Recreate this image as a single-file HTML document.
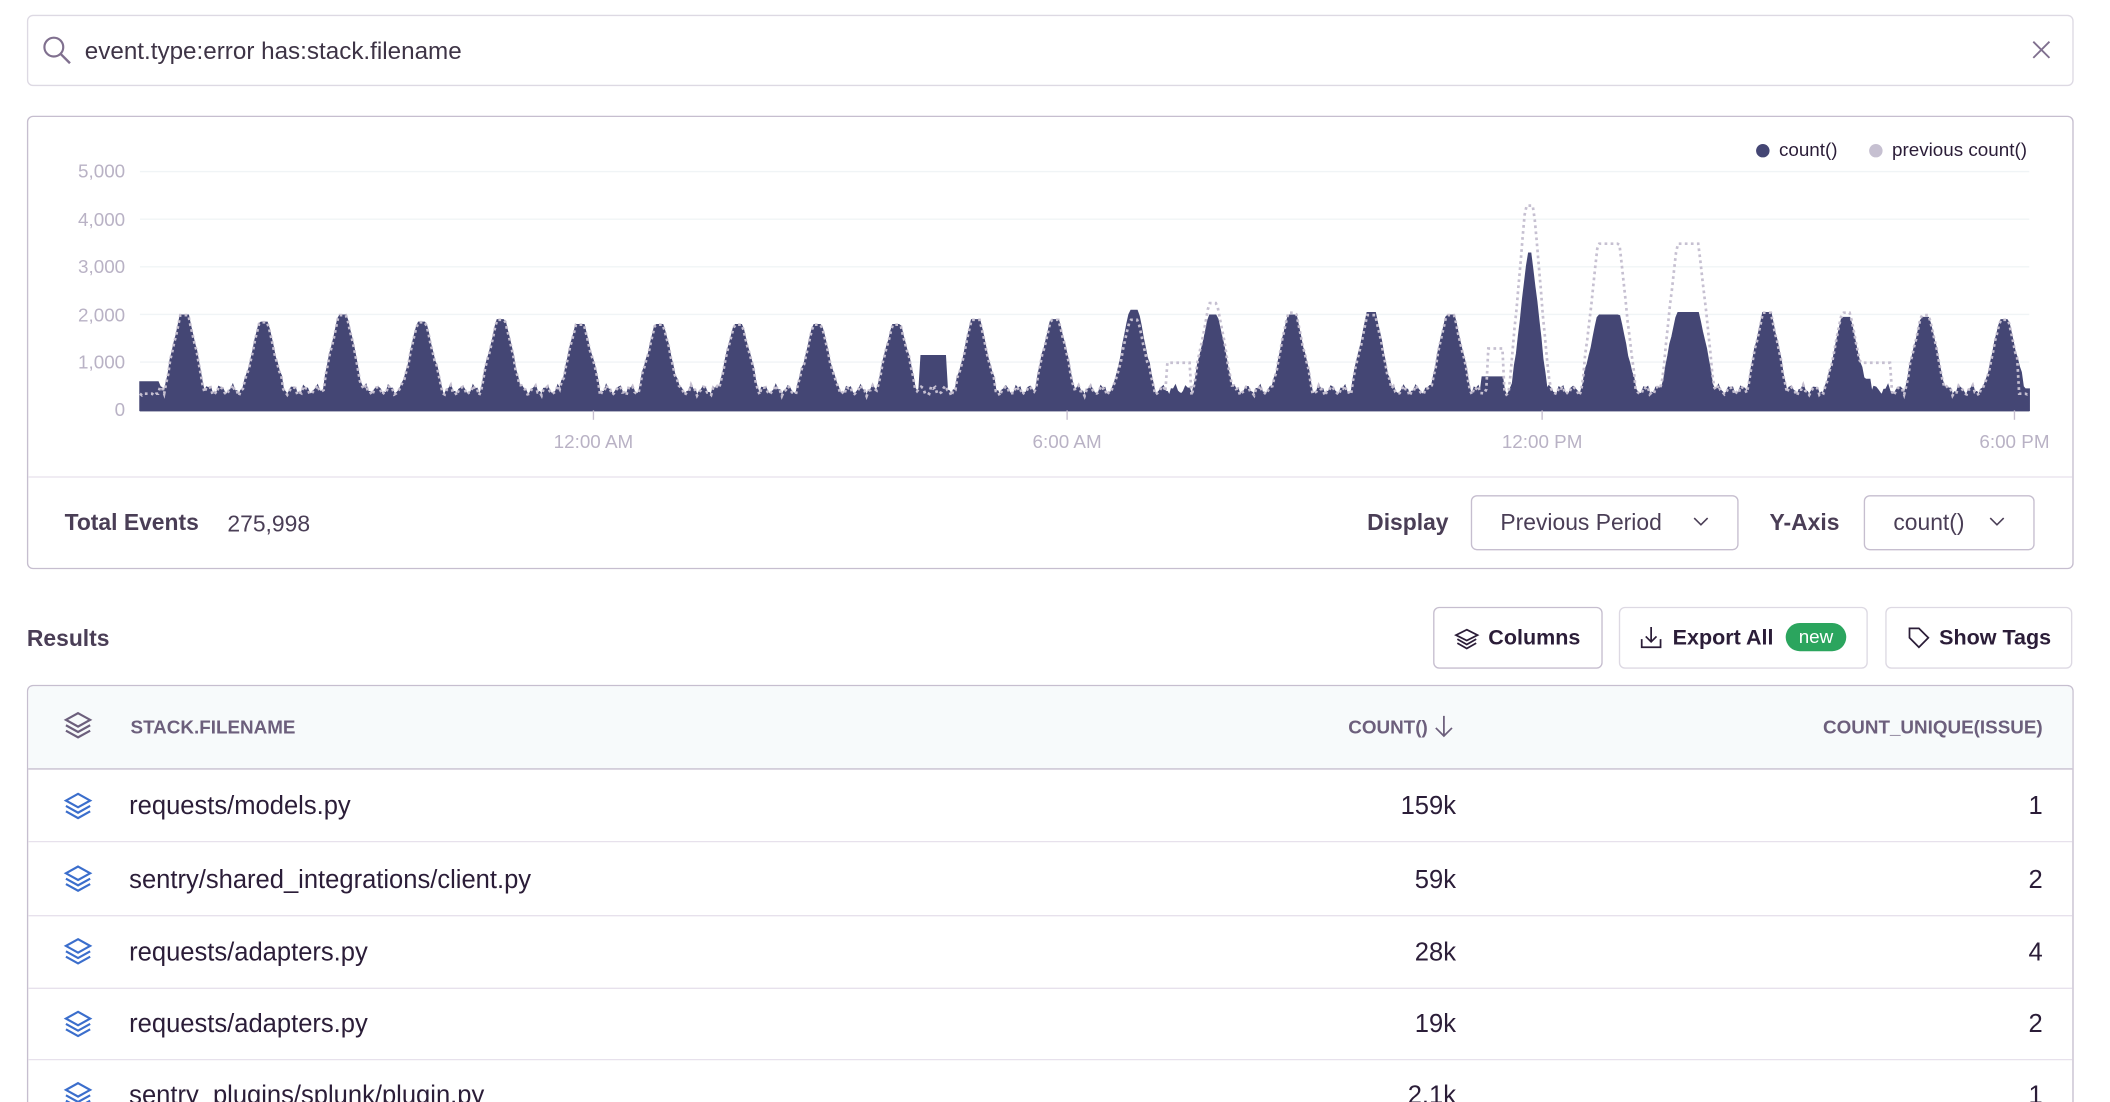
<!DOCTYPE html>
<html><head><meta charset="utf-8"><style>
html,body{margin:0;padding:0;background:#fff;overflow:hidden}
svg{display:block}
text{font-family:"Liberation Sans",sans-serif}
</style></head><body>
<svg id="s" width="2110" height="1102" viewBox="0 0 1568 819" preserveAspectRatio="none" xmlns="http://www.w3.org/2000/svg">
<!-- search -->
<rect x="20.5" y="11.5" width="1520" height="52" rx="4" fill="#fff" stroke="#ddd9e3"/>
<circle cx="40" cy="35" r="7" fill="none" stroke="#80708f" stroke-width="1.6"/>
<line x1="45" y1="40" x2="52" y2="47" stroke="#80708f" stroke-width="1.8"/>
<text x="63" y="44" font-size="18" fill="#3e3446">event.type:error has:stack.filename</text>
<path d="M1511 31 L1523 43 M1523 31 L1511 43" stroke="#80708f" stroke-width="1.4"/>
<!-- chart panel -->
<rect x="20.5" y="86.5" width="1520" height="336" rx="4" fill="#fff" stroke="#c6becf"/>
<line x1="21" y1="354.5" x2="1540" y2="354.5" stroke="#e7e1ec"/>
<g id="grid" stroke="#f0f4f6" stroke-width="1"></g>
<g font-size="14" fill="#b9b2c5" text-anchor="end">
<text x="93" y="132">5,000</text><text x="93" y="168">4,000</text><text x="93" y="203">3,000</text>
<text x="93" y="239">2,000</text><text x="93" y="274">1,000</text><text x="93" y="309">0</text>
</g>
<path id="cur" fill="#444674" stroke="#444674" stroke-width="1"/>
<path id="prev" fill="none" stroke="#c6c0d1" stroke-width="2" stroke-dasharray="2 2.5"/>
<line x1="104" y1="305" x2="1508" y2="305" stroke="#444674" stroke-width="1.5"/>
<g stroke="#c6becf"><line x1="441" y1="305" x2="441" y2="312"/><line x1="793" y1="305" x2="793" y2="312"/><line x1="1146" y1="305" x2="1146" y2="312"/><line x1="1497" y1="305" x2="1497" y2="312"/></g>
<g font-size="14" fill="#b9b2c5" text-anchor="middle">
<text x="441" y="333">12:00 AM</text><text x="793" y="333">6:00 AM</text><text x="1146" y="333">12:00 PM</text><text x="1497" y="333">6:00 PM</text>
</g>
<circle cx="1310" cy="112" r="5" fill="#444674"/><text x="1322" y="116" font-size="14" fill="#2b1d38">count()</text>
<circle cx="1394" cy="112" r="5" fill="#c6c0d1"/><text x="1406" y="116" font-size="14" fill="#2b1d38">previous count()</text>
<text x="48" y="394" font-size="17" font-weight="bold" fill="#4a3e56">Total Events</text>
<text x="169" y="395" font-size="17" fill="#4a3e56">275,998</text>
<text x="1016" y="394" font-size="17" font-weight="bold" fill="#4a3e56">Display</text>
<rect x="1093.5" y="368.5" width="198" height="40" rx="4" fill="#fff" stroke="#c6becf"/>
<text x="1115" y="394" font-size="17" fill="#4a3e56">Previous Period</text>
<path d="M1259 385 L1264 390 L1269 385" fill="none" stroke="#4a3e56" stroke-width="1.2"/>
<text x="1315" y="394" font-size="17" font-weight="bold" fill="#4a3e56">Y-Axis</text>
<rect x="1385.5" y="368.5" width="126" height="40" rx="4" fill="#fff" stroke="#c6becf"/>
<text x="1407" y="394" font-size="17" fill="#4a3e56">count()</text>
<path d="M1479 385 L1484 390 L1489 385" fill="none" stroke="#4a3e56" stroke-width="1.2"/>
<!-- results -->
<text x="20" y="480" font-size="17" font-weight="bold" fill="#4a3e56">Results</text>
<rect x="1065.5" y="451.5" width="125" height="45" rx="4" fill="#fff" stroke="#c6becf"/>
<g fill="none" stroke="#2b1d38" stroke-width="1.3"><path d="M1090 468 L1098 472 L1090 476 L1082 472Z"/><path d="M1083 475 L1090 479 L1097 475"/><path d="M1083 478 L1090 482 L1097 478"/></g>
<text x="1106" y="479" font-size="16" font-weight="bold" fill="#2b1d38">Columns</text>
<rect x="1203.5" y="451.5" width="184" height="45" rx="4" fill="#fff" stroke="#ddd9e3"/>
<g fill="none" stroke="#2b1d38" stroke-width="1.3"><path d="M1227 466 L1227 477 M1223 473 L1227 477 L1231 473 M1220 475 L1220 481 L1234 481 L1234 475"/></g>
<text x="1243" y="479" font-size="16" font-weight="bold" fill="#2b1d38">Export All</text>
<rect x="1327" y="463" width="45" height="21" rx="10.5" fill="#2ba55e"/>
<text x="1349.5" y="478" font-size="14" fill="#fff" text-anchor="middle">new</text>
<rect x="1401.5" y="451.5" width="138" height="45" rx="4" fill="#fff" stroke="#ddd9e3"/>
<path d="M1419 467 L1426 467 L1433 474 L1426 481 L1419 474Z" fill="none" stroke="#2b1d38" stroke-width="1.3"/>
<text x="1441" y="479" font-size="16" font-weight="bold" fill="#2b1d38">Show Tags</text>
<!-- table -->
<rect x="20.5" y="509.5" width="1520" height="340" rx="4" fill="#fff" stroke="#c6becf"/>
<path d="M21 571 L21 514 Q21 510 25 510 L1536 510 Q1540 510 1540 514 L1540 571Z" fill="#f7fafb"/>
<line x1="21" y1="571.5" x2="1540" y2="571.5" stroke="#c6becf"/>
<g stroke="#e7e1ec"><line x1="21" y1="625.5" x2="1540" y2="625.5"/><line x1="21" y1="680.5" x2="1540" y2="680.5"/><line x1="21" y1="734.5" x2="1540" y2="734.5"/><line x1="21" y1="787.5" x2="1540" y2="787.5"/></g>
<g id="icons"></g>
<g font-size="14" font-weight="bold" fill="#6c5f7c">
<text x="97" y="545">STACK.FILENAME</text>
<text x="1061" y="545" text-anchor="end">COUNT()</text>
<text x="1518" y="545" text-anchor="end">COUNT_UNIQUE(ISSUE)</text>
</g>
<path d="M1073 532 L1073 547 M1067 541 L1073 547 L1079 541" fill="none" stroke="#6c5f7c" stroke-width="1.3"/>
<g font-size="19" fill="#2b1d38">
<text x="96" y="605">requests/models.py</text><text x="1082" y="605" text-anchor="end">159k</text><text x="1518" y="605" text-anchor="end">1</text>
<text x="96" y="660">sentry/shared_integrations/client.py</text><text x="1082" y="660" text-anchor="end">59k</text><text x="1518" y="660" text-anchor="end">2</text>
<text x="96" y="714">requests/adapters.py</text><text x="1082" y="714" text-anchor="end">28k</text><text x="1518" y="714" text-anchor="end">4</text>
<text x="96" y="767">requests/adapters.py</text><text x="1082" y="767" text-anchor="end">19k</text><text x="1518" y="767" text-anchor="end">2</text>
<text x="96" y="820">sentry_plugins/splunk/plugin.py</text><text x="1082" y="820" text-anchor="end">2.1k</text><text x="1518" y="820" text-anchor="end">1</text>
</g>
</svg>
<script>
(function(){
var NS="http://www.w3.org/2000/svg";
var g=document.getElementById('grid');
for(var i=0;i<5;i++){var y=127.5+i*35.4;var l=document.createElementNS(NS,'line');l.setAttribute('x1',104);l.setAttribute('x2',1508);l.setAttribute('y1',y);l.setAttribute('y2',y);g.appendChild(l);}
var ic=document.getElementById('icons');
function icon(cy,col){var s='<g fill="none" stroke="'+col+'" stroke-width="1.6"><path d="M58 '+(cy-9)+' L67 '+(cy-4)+' L58 '+(cy+1)+' L49 '+(cy-4)+'Z"/><path d="M49 '+cy+' L58 '+(cy+5)+' L67 '+cy+'"/><path d="M49 '+(cy+4)+' L58 '+(cy+9)+' L67 '+(cy+4)+'"/></g>';ic.insertAdjacentHTML('beforeend',s);}
icon(539,'#6c5f7c');[599,653,707,761,814].forEach(function(c){icon(c,'#3b6ecc');});
var H=[2000,1850,2000,1850,1900,1800,1800,1800,1800,1800,1900,1900,2100,2000,2000,2050,2000,3300,2000,2050,2050,1950,1950,1900];
var P=H.slice();P[12]=1900;P[13]=2250;P[14]=2050;P[15]=2000;P[17]=4300;P[18]=3500;P[19]=3500;P[21]=2050;P[22]=2000;
function base(x,k){return 420+80*Math.sin(x*0.7)+40*Math.sin(x*1.9);}
function shape(d,wt){d=Math.abs(d);if(d<wt)return 1;if(d>wt+12)return 0;return 1-(d-wt)/12;}
function val(x,arr,prev){var v=base(x);var m=0;
 for(var k=0;k<24;k++){var xc=137+58.8*k;var wt=(k==18||k==19)?8:3;if(k==17&&!prev)wt=1;
  var s=shape(x-xc,wt);m=Math.max(m,s*(arr[k]-v));}
 v+=m;
 if(!prev){ if(x>=684&&x<=703)v=Math.max(v,1150); if(x<118)v=Math.max(v,600); if(x>1100&&x<1118)v=Math.max(v,700);if(x>1378&&x<1390)v=Math.max(v,650);if(x>1500)v=Math.max(v,450);}
 else { if(x>1373&&x<1405)v=Math.max(v,1000); if(x>866&&x<885)v=Math.max(v,1000);if(x>1105&&x<1118)v=Math.max(v,1300);if(x<118)v=Math.min(v,350);if(x>1500)v=Math.min(v,350);}
 return v;}
function Y(v){return 305-v*177/5000;}
var c='M104 305',p='';
for(var x=104;x<=1508;x+=1.5){var xx=Math.min(x,1508);c+=' L'+xx.toFixed(1)+' '+Y(val(xx,H,false)).toFixed(1);p+=(p?' L':'M')+xx.toFixed(1)+' '+Y(val(xx,P,true)).toFixed(1);}
c+=' L1508 305Z';
document.getElementById('cur').setAttribute('d',c);
document.getElementById('prev').setAttribute('d',p);
})();
</script>
</body></html>
